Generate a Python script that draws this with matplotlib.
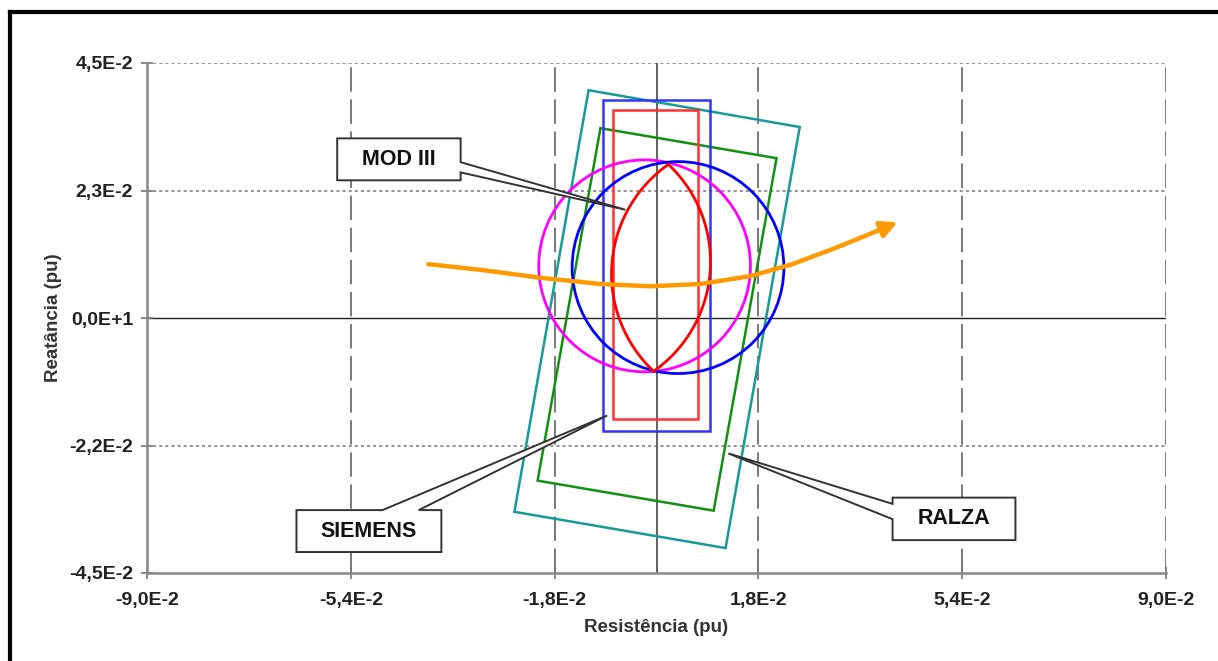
import numpy as np
import matplotlib.pyplot as plt
from matplotlib.patches import Polygon, Circle, FancyArrowPatch
from matplotlib.path import Path
from matplotlib.lines import Line2D

plt.rcParams['font.family'] = ['Liberation Sans', 'DejaVu Sans']

# axis ticks
x_ticks = [-0.09, -0.054, -0.018, 0.018, 0.054, 0.09]
x_labels = ["-9,0E-2", "-5,4E-2", "-1,8E-2", "1,8E-2", "5,4E-2", "9,0E-2"]
y_ticks = [0.045, 0.0225, 0.0, -0.0225, -0.045]
y_labels = ["4,5E-2", "2,3E-2", "0,0E+1", "-2,2E-2", "-4,5E-2"]

# rotated quadrilaterals (corners, R / X in pu)
ralza_outer = [(-0.0120, 0.0402), (0.0253, 0.0337), (0.0122, -0.0406), (-0.0251, -0.0342)]
ralza_inner = [(-0.0099, 0.0335), (0.0212, 0.0282), (0.0101, -0.0340), (-0.0210, -0.0287)]

# quadrilateral characteristics (rmin, rmax, xmin, xmax)
siemens_rect = (-0.0094, 0.0094, -0.0199, 0.0385)
mod3_rect = (-0.0076, 0.0074, -0.0179, 0.0367)

# mho circles (center r, center x, radius)
mho_magenta = (-0.0021, 0.0092, 0.0187)
mho_blue = (0.0038, 0.0089, 0.0187)

# lens: top vertex, bottom vertex, half width
lens_top = (0.0021, 0.0271)
lens_bottom = (-0.0005, -0.0094)
lens_half_width = 0.0087

# impedance trajectory
traj_r = [-0.0403, -0.0311, -0.0205, -0.0099, -0.0011, 0.0078, 0.0166, 0.0237, 0.0307, 0.0369, 0.0426]
traj_x = [0.0095, 0.0085, 0.0071, 0.0060, 0.0056, 0.0060, 0.0074, 0.0094, 0.0120, 0.0145, 0.0169]

# callouts: text, box (r0, r1, x0, x1), side, base pair, tip
callouts = [
    ("MOD III", (-0.0564, -0.0346, 0.0243, 0.0317), "right", (0.0275, 0.0257), (-0.0055, 0.0191)),
    ("SIEMENS", (-0.0636, -0.0380, -0.0413, -0.0339), "top", (-0.0484, -0.0420), (-0.0087, -0.0172)),
    ("RALZA", (0.0417, 0.0634, -0.0392, -0.0317), "left", (-0.0328, -0.0355), (0.0127, -0.0239)),
]


def lens_arcs(p1, p2, b, n=120):
    p1 = np.array(p1)
    p2 = np.array(p2)
    m = (p1 + p2) / 2
    d = p2 - p1
    a = np.linalg.norm(d) / 2
    u = d / (2 * a)
    nrm = np.array([-u[1], u[0]])
    R = (a ** 2 + b ** 2) / (2 * b)
    alpha = np.arcsin(a / R)
    arcs = []
    for s in (1, -1):
        c = m - s * nrm * (R - b)
        phi = np.arctan2(s * nrm[1], s * nrm[0])
        t = np.linspace(phi - alpha, phi + alpha, n)
        arcs.append((c[0] + R * np.cos(t), c[1] + R * np.sin(t)))
    return arcs


def callout_poly(box, side, base, tip):
    r0, r1, x0, x1 = box
    if side == "right":
        return [(r0, x0), (r1, x0), (r1, base[1]), tip, (r1, base[0]), (r1, x1), (r0, x1)]
    if side == "top":
        return [(r0, x0), (r1, x0), (r1, x1), (base[1], x1), tip, (base[0], x1), (r0, x1)]
    return [(r0, x0), (r1, x0), (r1, x1), (r0, x1), (r0, base[0]), tip, (r0, base[1])]


fig = plt.figure(figsize=(12.18, 6.61), dpi=100)
ax = fig.add_axes([147 / 1218, 88 / 661, 1019 / 1218, 510 / 661])
ax.set_xlim(-0.09, 0.09)
ax.set_ylim(-0.045, 0.045)

# grid
for xv in x_ticks[1:]:
    ax.axvline(xv, color="#555555", lw=1.1, dashes=(16, 5), zorder=1)
for yv in [0.045, 0.0225, -0.0225]:
    ax.axhline(yv, color="#777777", lw=1.1, dashes=(2, 2), zorder=1)
ax.axhline(0, color="#222222", lw=1.0, zorder=1)
ax.axvline(0, color="#555555", lw=1.3, zorder=1)

for sp in ["top", "right"]:
    ax.spines[sp].set_visible(False)
for sp in ["left", "bottom"]:
    ax.spines[sp].set_color("#888888")
    ax.spines[sp].set_linewidth(1.8)

ax.set_xticks(x_ticks)
ax.set_xticklabels(x_labels)
ax.set_yticks(y_ticks)
ax.set_yticklabels(y_labels)
ax.tick_params(direction="inout", length=8, width=1.2, color="#777777", labelsize=14)
ax.tick_params(axis="x", pad=10)
ax.tick_params(axis="y", pad=6)
for lbl in ax.get_xticklabels() + ax.get_yticklabels():
    lbl.set_fontweight("bold")
    lbl.set_color("#222222")

ax.set_xlabel("Resistência (pu)", fontsize=13.5, fontweight="bold", color="#333333", labelpad=7)
ax.set_ylabel("Reatância (pu)", fontsize=13.5, fontweight="bold", color="#333333", labelpad=5)

# characteristics
ax.add_patch(Polygon(ralza_outer, closed=True, fill=False, ec="#169a9a", lw=1.8, zorder=3))
ax.add_patch(Polygon(ralza_inner, closed=True, fill=False, ec="#119011", lw=1.8, zorder=3))
for (r0, r1, x0, x1), col in [(siemens_rect, "#3333ff"), (mod3_rect, "#ff3030")]:
    ax.add_patch(Polygon([(r0, x0), (r1, x0), (r1, x1), (r0, x1)], closed=True,
                         fill=False, ec=col, lw=1.8, zorder=3))
ax.add_patch(Circle(mho_magenta[:2], mho_magenta[2], fill=False, ec="#ff00ff", lw=2.0, zorder=4))
ax.add_patch(Circle(mho_blue[:2], mho_blue[2], fill=False, ec="#0000ff", lw=2.0, zorder=4))
for ar, ax_ in lens_arcs(lens_top, lens_bottom, lens_half_width):
    ax.plot(ar, ax_, color="#ff0000", lw=2.0, zorder=5)

# trajectory with arrow head at the end
traj_path = Path(np.column_stack([traj_r, traj_x]))
ax.add_patch(FancyArrowPatch(path=traj_path, arrowstyle="-|>,head_length=10,head_width=5",
                             color="#ff9900", lw=3.2, zorder=6))

# callouts
for text, box, side, base, tip in callouts:
    ax.add_patch(Polygon(callout_poly(box, side, base, tip), closed=True, fc="white",
                         ec="#333333", lw=1.4, zorder=7))
    ax.text((box[0] + box[1]) / 2, (box[2] + box[3]) / 2, text, ha="center", va="center",
            fontsize=15.5, fontweight="bold", color="#111111", zorder=8)

# outer frame
fig.add_artist(Line2D([10 / 1218, 10 / 1218], [0, 1 - 12 / 661], color="black", lw=3, transform=fig.transFigure))
fig.add_artist(Line2D([10 / 1218, 1], [1 - 12 / 661, 1 - 12 / 661], color="black", lw=3, transform=fig.transFigure))

fig.savefig("out.png", dpi=100)
